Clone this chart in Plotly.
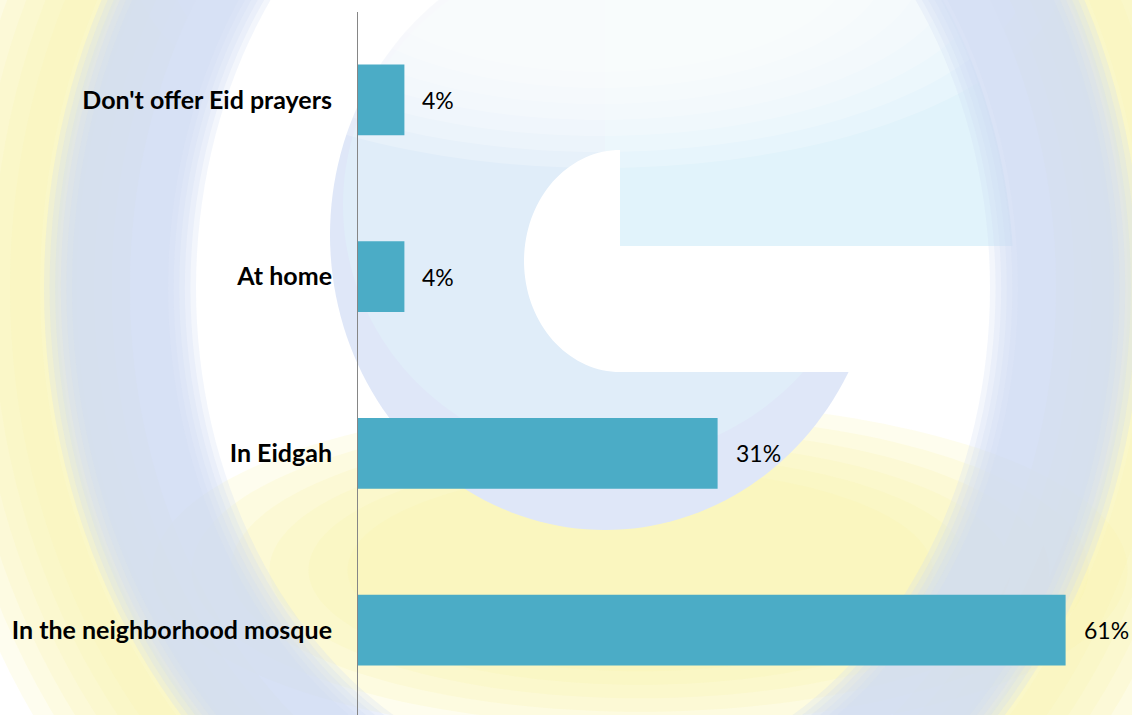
import numpy as np
import plotly.graph_objects as go

# ---- data ----
categories = ["In the neighborhood mosque", "In Eidgah", "At home", "Don't offer Eid prayers"]
values = [61, 31, 4, 4]
value_labels = ["61%", "31%", "4%", "4%"]

BAR_COLOR = "#4BACC6"
FONT = "Lato, Carlito, Calibri, sans-serif"

# layout geometry (pixels)
FIG_W, FIG_H = 1132, 715
M_L, M_R, M_T, M_B = 358, 0, 12, 0
PW = FIG_W - M_L - M_R
PH = FIG_H - M_T - M_B


def X(px):
    return (px - M_L) / PW


def Y(py):
    return (FIG_H - M_B - py) / PH


def ellipse_pts(cx, cy, a, b, t0=0.0, t1=2 * np.pi, n=180, closed=True):
    t = np.linspace(t0, t1, n, endpoint=not closed)
    return [(cx + a * np.cos(v), cy + b * np.sin(v)) for v in t]


def path_of(*rings):
    parts = []
    for pts in rings:
        s = "M {:.5f},{:.5f} ".format(X(pts[0][0]), Y(pts[0][1]))
        s += " ".join("L {:.5f},{:.5f}".format(X(x), Y(y)) for x, y in pts[1:])
        s += " Z"
        parts.append(s)
    return " ".join(parts)


def shape(path, color):
    return dict(type="path", xref="paper", yref="paper", path=path,
                fillcolor=color, line=dict(width=0), layer="below")


def rgba(rgb, a):
    return "rgba({},{},{},{:.3f})".format(rgb[0], rgb[1], rgb[2], a)


def soft_ellipse(cx, cy, a, b, rgb, alpha, steps=6, spread=0.35):
    out = []
    for k in range(steps):
        f = 1 + spread * (1 - k / (steps - 1)) - spread / 2
        out.append(shape(path_of(ellipse_pts(cx, cy, a * f, b * f)), rgba(rgb, alpha)))
    return out


def soft_annulus(cx, cy, a_mid, b_mid, half, rgb, alpha, steps=6, blur=22):
    out = []
    for k in range(steps):
        h = half + blur * (1 - 2 * k / (steps - 1))
        outer = ellipse_pts(cx, cy, a_mid + h, b_mid + h)
        inner = ellipse_pts(cx, cy, a_mid - h, b_mid - h)[::-1]
        out.append(shape(path_of(outer, inner), rgba(rgb, alpha)))
    return out


# ---- watermark (decorative background logo) ----
shapes = []
CX, CY = 593, 288          # ring centre
A_MID, B_MID, HALF = 473, 570, 62
A_IN, B_IN = A_MID - HALF, B_MID - HALF

# yellow halo around the ring
shapes += soft_annulus(CX, CY, A_MID + 95, B_MID + 95, 60, (251, 244, 175), 0.2, steps=6, blur=45)
# yellow glow inside the ring, bottom
shapes += soft_ellipse(640, 570, 390, 135, (250, 243, 170), 0.2, steps=6, spread=0.5)
# inner G: round body
G1 = (605, 235, 275, 295)
shapes.append(shape(path_of(ellipse_pts(*G1)), "#dfe7f8"))
shapes.append(shape(path_of(ellipse_pts(605, 205, 262, 255)), "#e0edf9"))
# inner G: upper-right arm, bounded by the ring
t_start = -np.arcsin(42 / (B_IN + 10))
t_end = -np.arccos(12 / (A_IN + 10))
arm = [(605, 246)] + ellipse_pts(CX, CY, A_IN + 10, B_IN + 10, t_start, t_end, 80, closed=False)
shapes.append(shape(path_of(arm), "#e1f3fb"))
# G hole (left half ellipse + opening to the right)
hole = ellipse_pts(620, 261, 96, 111, -np.pi / 2, -3 * np.pi / 2, 70, closed=False)
hole += [(1012, 372), (1012, 246), (620, 246)]
shapes.append(shape(path_of(hole), "#ffffff"))
# soft white highlight at the top of the logo
shapes += soft_ellipse(600, -40, 360, 160, (255, 255, 255), 0.22, steps=7, spread=0.6)
# outer ring
shapes += soft_annulus(CX, CY, A_MID, B_MID, HALF, (206, 218, 244), 0.25, steps=6, blur=14)

# ---- chart ----
fig = go.Figure()
fig.add_trace(go.Bar(
    y=categories, x=values, orientation="h",
    marker=dict(color=BAR_COLOR, line=dict(width=0)),
    hoverinfo="skip",
))

annotations = []
for c, v, t in zip(categories, values, value_labels):
    annotations.append(dict(x=v, y=c, xref="x", yref="y", text=t, showarrow=False,
                            xanchor="left", yanchor="middle", xshift=16,
                            font=dict(family=FONT, size=23, color="#000000")))

px_per_unit = 176.8
y0 = -(FIG_H - M_B - 630.2) / px_per_unit
y1 = y0 + PH / px_per_unit

fig.update_layout(
    width=FIG_W, height=FIG_H,
    margin=dict(l=M_L, r=M_R, t=M_T, b=M_B, autoexpand=False),
    paper_bgcolor="#ffffff",
    plot_bgcolor="rgba(0,0,0,0)",
    bargap=0.6,
    showlegend=False,
    shapes=shapes,
    annotations=annotations,
    xaxis=dict(range=[0, PW / 11.6], visible=False, fixedrange=True),
    yaxis=dict(
        type="category", categoryorder="array", categoryarray=categories,
        range=[y0, y1], showline=True, linecolor="#868686", linewidth=1,
        showgrid=False, zeroline=False, ticks="", ticklabelstandoff=20,
        tickfont=dict(family=FONT, size=25, color="#000000", weight="bold"),
        fixedrange=True,
    ),
)

fig.write_html("out.html",
               config={"displayModeBar": False, "staticPlot": True},
               post_script="document.body.style.margin='0';"
                           "document.documentElement.style.overflow='hidden';")
